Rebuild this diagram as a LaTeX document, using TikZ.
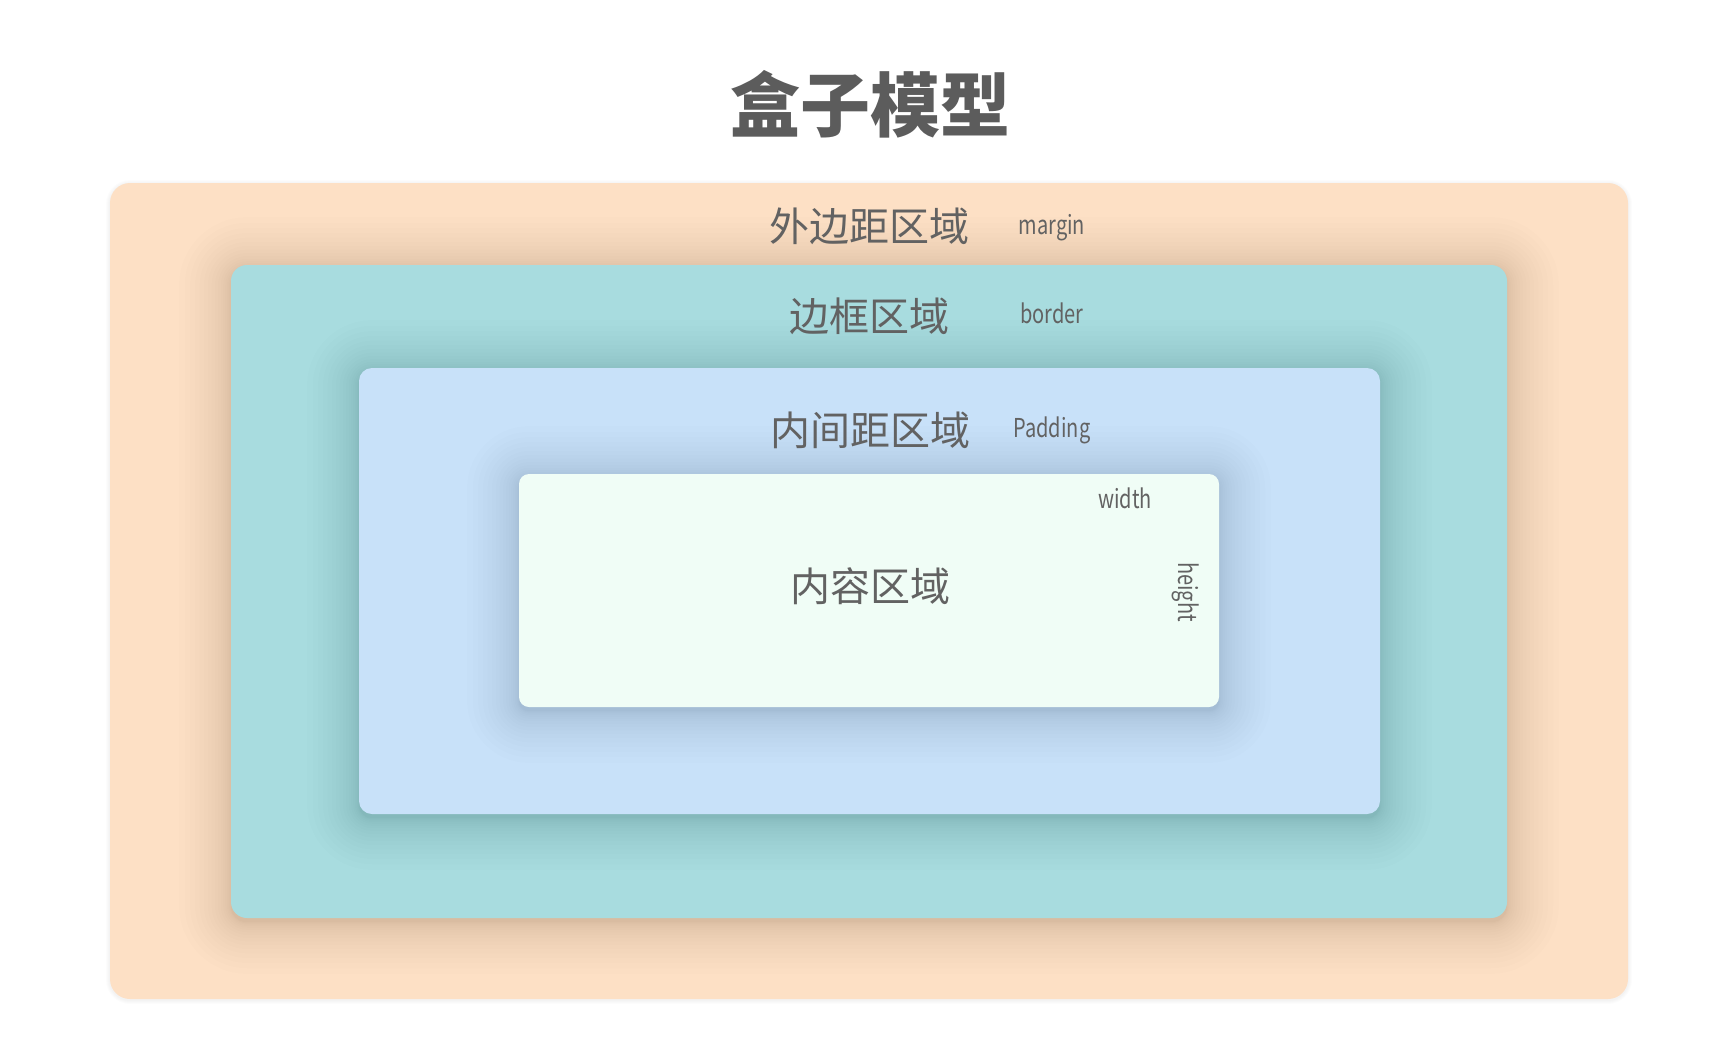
\documentclass[tikz,border=0pt]{standalone}
\usepackage{fontspec}
\newfontfamily\cjk{Noto Sans CJK SC}
\newfontfamily\cjkfs[FakeStretch=0.77]{Noto Sans CJK SC}
\definecolor{peach}{HTML}{FDE0C5}
\definecolor{tealbox}{HTML}{A8DCDF}
\definecolor{bluebox}{HTML}{C8E1F9}
\definecolor{contentbox}{HTML}{F0FDF6}
\definecolor{txt}{HTML}{5C5C5C}
\definecolor{txtlight}{HTML}{626262}
\pgfdeclarelayer{bg}
\pgfdeclarelayer{sh0}\pgfdeclarelayer{bx0}
\pgfdeclarelayer{sh1}\pgfdeclarelayer{bx1}
\pgfdeclarelayer{sh2}\pgfdeclarelayer{bx2}
\pgfdeclarelayer{sh3}\pgfdeclarelayer{bx3}
\pgfsetlayers{bg,sh0,bx0,sh1,bx1,sh2,bx2,sh3,bx3,main}
\newcommand\softshadow[3]{% node, corner radius, layer
  \begin{pgfonlayer}{#3}
  \foreach \i in {1,...,18}{
    \pgfmathsetmacro\e{0.16*\i*\i}
    \pgfmathsetmacro\rr{#2+\e}
    \fill[black,fill opacity=0.007,rounded corners=\rr pt]
      ([shift={(-\e,-\e+4)}]#1.north west) rectangle ([shift={(\e,\e+4)}]#1.south east);
  }
  \end{pgfonlayer}}
\begin{document}
\begin{tikzpicture}[x=1pt,y=-1pt,
  box/.style={rectangle,inner sep=0pt,outer sep=0pt,draw=none},
  cjklabel/.style={inner sep=0pt,text=txtlight,font=\cjk\fontsize{40}{40}\selectfont},
  titlelabel/.style={inner sep=0pt,text=txt,font=\cjk\bfseries\fontsize{70}{70}\selectfont},
  enlabel/.style={inner sep=0pt,text=txtlight,font=\cjkfs\fontsize{26}{26}\selectfont,anchor=base}]
\begin{pgfonlayer}{bg}
\path[fill=white] (0,0) rectangle (1722,1044);
\end{pgfonlayer}
\useasboundingbox (0,0) rectangle (1722,1044);

\begin{pgfonlayer}{bx0}
\node[box,fill=peach,rounded corners=20pt,minimum width=1518pt,minimum height=816pt] (marginbox) at (869,591) {};
\end{pgfonlayer}
\begin{pgfonlayer}{sh0}
\foreach \i in {1,...,4}{
  \fill[black,fill opacity=0.012,rounded corners=20pt+\i pt]
    ([shift={(-\i,-\i+1)}]marginbox.north west) rectangle ([shift={(\i,\i+1)}]marginbox.south east);
}
\end{pgfonlayer}

\begin{pgfonlayer}{bx1}
\node[box,fill=tealbox,rounded corners=16pt,minimum width=1276pt,minimum height=653pt] (borderbox) at (869,591.5) {};
\end{pgfonlayer}
\softshadow{borderbox}{16}{sh1}

\begin{pgfonlayer}{bx2}
\node[box,fill=bluebox,rounded corners=13pt,minimum width=1021pt,minimum height=446pt] (paddingbox) at (869.5,591) {};
\end{pgfonlayer}
\softshadow{paddingbox}{13}{sh2}

\begin{pgfonlayer}{bx3}
\node[box,fill=contentbox,rounded corners=10pt,minimum width=700pt,minimum height=233pt] (contentbox) at (869,590.5) {};
\end{pgfonlayer}
\softshadow{contentbox}{10}{sh3}

\node[titlelabel] (title) at (870,104) {盒子模型};
\node[cjklabel] (marginlabel) at (869,226) {外边距区域};
\node[enlabel] (marginen) at (1052,234) {margin};
\node[cjklabel] (borderlabel) at (869,316) {边框区域};
\node[enlabel] (borderen) at (1052,323) {border};
\node[cjklabel] (paddinglabel) at (870,430) {内间距区域};
\node[enlabel] (paddingen) at (1052,437) {Padding};
\node[cjklabel] (contentlabel) at (870,586) {内容区域};
\node[enlabel] (widthen) at (1125,508) {width};
\node[enlabel,rotate=-90] (heighten) at (1178,592) {height};
\end{tikzpicture}
\end{document}
